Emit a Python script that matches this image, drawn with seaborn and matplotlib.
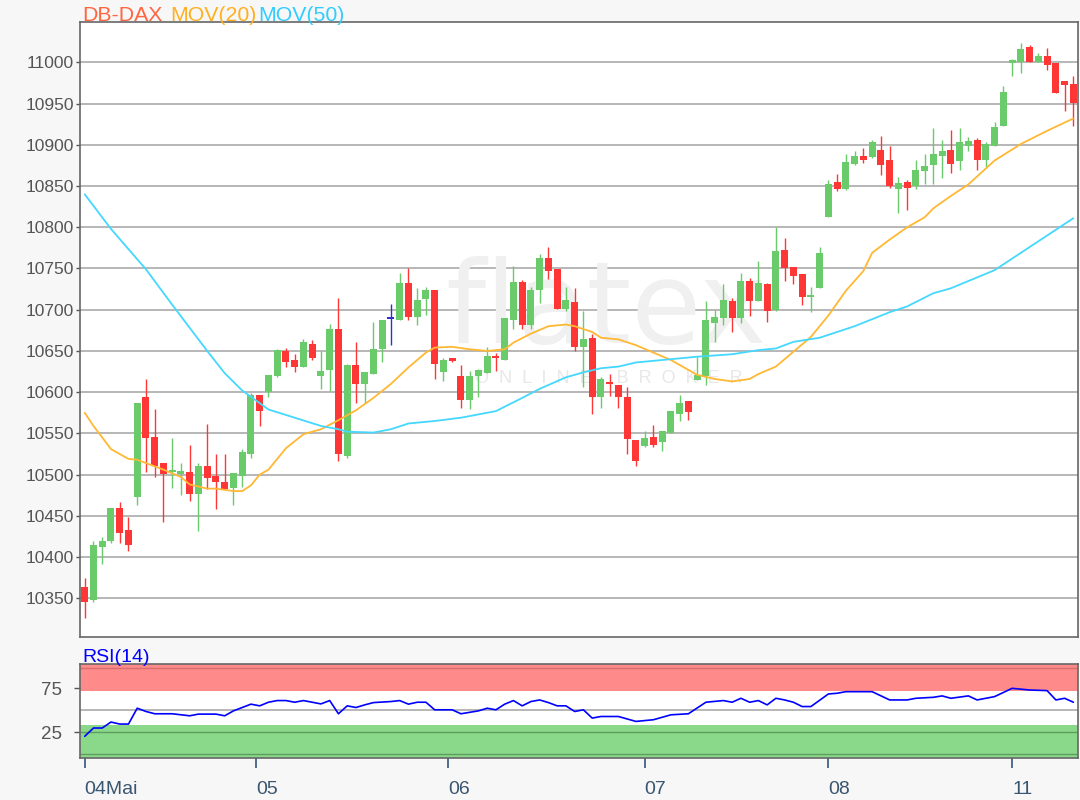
import matplotlib
matplotlib.use("Agg")
import matplotlib.pyplot as plt
import seaborn as sns
import numpy as np
import pandas as pd

# hourly candles, 04 Mai .. 11 Mai
opens = [10364, 10348, 10412, 10419, 10460, 10433, 10473, 10594, 10546, 10514,
         10503, 10501, 10503, 10477, 10510, 10498, 10491, 10484, 10498, 10525,
         10596, 10600, 10620, 10650, 10639, 10630, 10658, 10620, 10627, 10677,
         10523, 10633, 10610, 10622, 10652, 10689, 10688, 10732, 10691, 10713,
         10724, 10625, 10642, 10619, 10590, 10619, 10623, 10644, 10639, 10687,
         10734, 10681, 10724, 10763, 10749, 10701, 10709, 10655, 10666, 10594,
         10612, 10609, 10594, 10542, 10535, 10546, 10539, 10551, 10574, 10589,
         10615, 10620, 10684, 10690, 10710, 10690, 10735, 10710, 10731, 10700,
         10773, 10752, 10743, 10716, 10726, 10812, 10855, 10846, 10877, 10887,
         10885, 10894, 10882, 10846, 10855, 10850, 10868, 10875, 10887, 10894,
         10880, 10899, 10906, 10881, 10899, 10923, 10999, 11000, 11019, 11001,
         11008, 10999, 10978, 10974]
highs = [10374, 10419, 10424, 10460, 10467, 10448, 10587, 10616, 10580, 10514,
         10544, 10514, 10536, 10514, 10561, 10525, 10525, 10502, 10531, 10599,
         10597, 10621, 10652, 10654, 10646, 10665, 10663, 10650, 10683, 10714,
         10634, 10661, 10624, 10685, 10688, 10707, 10744, 10751, 10726, 10727,
         10724, 10642, 10642, 10633, 10626, 10628, 10655, 10648, 10690, 10753,
         10736, 10728, 10768, 10776, 10749, 10728, 10726, 10699, 10671, 10618,
         10622, 10609, 10606, 10542, 10553, 10560, 10553, 10577, 10597, 10589,
         10643, 10710, 10700, 10731, 10714, 10745, 10739, 10759, 10733, 10800,
         10787, 10752, 10743, 10728, 10776, 10857, 10865, 10889, 10893, 10896,
         10906, 10911, 10898, 10861, 10857, 10881, 10889, 10921, 10906, 10918,
         10921, 10910, 10908, 10903, 10928, 10971, 11004, 11023, 11021, 11011,
         11018, 10999, 10978, 10983]
lows = [10326, 10346, 10391, 10417, 10417, 10407, 10463, 10503, 10497, 10443,
        10484, 10475, 10468, 10431, 10483, 10458, 10483, 10463, 10485, 10520,
        10559, 10594, 10618, 10630, 10625, 10630, 10639, 10604, 10602, 10517,
        10520, 10587, 10587, 10622, 10636, 10657, 10687, 10688, 10681, 10693,
        10616, 10613, 10637, 10581, 10579, 10594, 10623, 10626, 10639, 10677,
        10677, 10677, 10708, 10737, 10701, 10699, 10650, 10606, 10573, 10581,
        10595, 10581, 10525, 10510, 10533, 10533, 10529, 10550, 10565, 10566,
        10615, 10609, 10661, 10682, 10673, 10684, 10692, 10710, 10685, 10698,
        10735, 10731, 10706, 10697, 10726, 10812, 10844, 10845, 10875, 10878,
        10884, 10863, 10848, 10817, 10821, 10846, 10852, 10852, 10860, 10866,
        10869, 10892, 10869, 10873, 10899, 10923, 10983, 10987, 11000, 11000,
        10991, 10963, 10941, 10923]
closes = [10345, 10414, 10419, 10460, 10429, 10415, 10587, 10544, 10511, 10501,
          10505, 10504, 10477, 10510, 10496, 10491, 10483, 10502, 10527, 10597,
          10577, 10621, 10651, 10637, 10630, 10661, 10642, 10626, 10677, 10525,
          10633, 10610, 10624, 10652, 10688, 10689, 10732, 10691, 10712, 10724,
          10634, 10639, 10638, 10590, 10619, 10627, 10644, 10642, 10690, 10734,
          10681, 10724, 10763, 10747, 10701, 10712, 10655, 10665, 10594, 10616,
          10610, 10594, 10543, 10517, 10544, 10536, 10553, 10577, 10587, 10576,
          10621, 10687, 10691, 10712, 10690, 10735, 10710, 10733, 10698, 10771,
          10751, 10741, 10716, 10718, 10769, 10852, 10846, 10879, 10886, 10882,
          10903, 10875, 10850, 10854, 10848, 10869, 10874, 10889, 10893, 10877,
          10903, 10905, 10881, 10901, 10922, 10964, 11003, 11016, 11000, 11008,
          10997, 10963, 10972, 10951]

# moving averages (candle number -> value)
ma20_idx = [0, 1, 3, 5, 6, 8, 9, 11, 12, 14, 15, 17, 18, 19, 20, 21, 23, 25, 27, 29,
            31, 33, 35, 37, 39, 40, 42, 44, 46, 48, 49, 51, 53, 55, 56, 58, 59, 61, 63, 65,
            67, 69, 70, 72, 74, 76, 77, 79, 81, 83, 85, 87, 89, 90, 92, 94, 96, 97, 99, 101,
            104, 107, 110, 113]
ma20_val = [10575, 10559, 10531, 10519, 10518, 10510, 10506, 10497, 10488, 10483,
            10483, 10480, 10480, 10487, 10500, 10506, 10532, 10549, 10555, 10566,
            10578, 10593, 10610, 10630, 10648, 10654, 10655, 10652, 10650, 10652,
            10660, 10671, 10680, 10682, 10680, 10673, 10666, 10664, 10657, 10648,
            10639, 10627, 10621, 10616, 10613, 10616, 10622, 10631, 10649, 10667,
            10693, 10723, 10747, 10769, 10785, 10800, 10812, 10823, 10838, 10852,
            10881, 10901, 10917, 10932]
ma50_idx = [0, 3, 7, 10, 12, 14, 16, 18, 21, 24, 27, 29, 30, 33, 35, 37, 40, 43, 47, 50,
            52, 55, 57, 59, 61, 63, 67, 70, 74, 77, 79, 81, 84, 88, 92, 94, 97, 99, 104, 109,
            113]
ma50_val = [10840, 10798, 10749, 10706, 10678, 10650, 10623, 10602, 10579, 10569,
            10559, 10555, 10552, 10551, 10555, 10562, 10565, 10569, 10577, 10593,
            10604, 10618, 10624, 10629, 10631, 10636, 10640, 10643, 10646, 10651,
            10653, 10661, 10666, 10680, 10697, 10704, 10720, 10726, 10748, 10783,
            10811]

rsi_idx = [0, 1, 2, 3, 4, 5, 6, 7, 8, 10, 12, 13, 15, 16, 17, 19, 20, 21, 22, 23,
           24, 25, 26, 27, 28, 29, 30, 31, 32, 33, 35, 36, 37, 38, 39, 40, 42, 43, 45, 46,
           47, 48, 49, 50, 51, 52, 53, 54, 55, 56, 57, 58, 59, 61, 63, 65, 67, 69, 71, 73,
           74, 75, 76, 77, 78, 79, 80, 81, 82, 83, 85, 86, 87, 90, 92, 94, 95, 97, 98, 99,
           101, 102, 104, 106, 108, 110, 111, 112, 113]
rsi_val = [20.5, 29.9, 29.9, 36.7, 34.4, 34.4, 52.4, 48.7, 46.1, 46.1, 43.8, 45.7, 45.7,
           43.8, 49.4, 57.0, 55.1, 59.2, 61.1, 61.1, 59.2, 61.1, 59.2, 57.3, 61.1, 46.1,
           55.1, 53.2, 56.2, 58.8, 60.0, 61.1, 57.0, 59.2, 59.2, 50.6, 50.6, 46.1, 49.4,
           52.4, 50.6, 57.0, 61.1, 55.1, 60.0, 61.8, 58.8, 55.1, 55.1, 48.7, 50.6, 41.2,
           43.0, 43.0, 37.4, 39.3, 44.9, 46.1, 59.2, 61.1, 59.2, 63.7, 59.2, 61.1, 56.2,
           63.7, 61.8, 59.2, 54.3, 54.3, 68.6, 69.4, 71.2, 71.2, 61.8, 61.8, 63.7, 64.8,
           66.4, 63.7, 66.4, 61.8, 65.6, 75.0, 73.1, 72.4, 61.8, 63.7, 59.2]

day_labels = ['04Mai', '05', '06', '07', '08', '11']
day_ticks = [0, 19.6, 41.5, 64, 85, 106]

GREEN = '#6acb6a'
RED = '#ff3636'
BLUE = '#3030d0'

sns.set_style('white')
plt.rcParams['font.family'] = ['Liberation Sans', 'DejaVu Sans']

df = pd.DataFrame({'open': opens, 'high': highs, 'low': lows, 'close': closes})
df['idx'] = np.arange(len(df))
df['colour'] = np.where(df.close > df.open, GREEN, np.where(df.close < df.open, RED, BLUE))
df['body_low'] = df[['open', 'close']].min(axis=1)
df['body_h'] = (df.close - df.open).abs().clip(lower=1.6)

fig = plt.figure(figsize=(10.8, 8), dpi=100, facecolor='#f7f7f7')
ax = fig.add_axes([80 / 1080, 163 / 800, 998 / 1080, 615 / 800])
ax_rsi = fig.add_axes([80 / 1080, 41.7 / 800, 998 / 1080, 94 / 800])

xlim = (-0.54, 113.53)

# watermark
ax.text(0.527, 0.53, 'flatex', transform=ax.transAxes, ha='center', va='center',
        fontsize=82, color='#f0f0f0', family='DejaVu Sans', zorder=0.6)
ax.text(0.53, 0.421, 'O  N  L  I  N  E     B  R  O  K  E  R', transform=ax.transAxes,
        ha='center', va='center', fontsize=13, color='#e8e8e8', zorder=0.6)

# candles
ax.vlines(df.idx, df.low, df.high, colors=df.colour, lw=1.0, zorder=3)
ax.bar(df.idx, df.body_h, bottom=df.body_low, width=0.8, color=df.colour, lw=0, zorder=4)

sns.lineplot(x=ma20_idx, y=ma20_val, ax=ax, color='#ffb833', lw=1.3, zorder=5)
sns.lineplot(x=ma50_idx, y=ma50_val, ax=ax, color='#44d8ff', lw=1.3, zorder=5)

ax.set_xlim(*xlim)
ax.set_ylim(10303, 11049)
ax.set_yticks(np.arange(10350, 11001, 50))
ax.set_xticks([])
ax.yaxis.grid(True, color='#a3a3a3', lw=1.1)
ax.set_axisbelow(True)
ax.tick_params(axis='y', left=True, length=3, width=1, color='#555555', labelsize=12.5,
               labelcolor='#555555', pad=1.5)
for s in ax.spines.values():
    s.set_color('#666666')
    s.set_linewidth(1.2)

# RSI panel
ylo, yhi = -4.5, 102.3
ax_rsi.axhspan(71.8, yhi, color='#ff8a8a', lw=0, zorder=0)
ax_rsi.axhspan(ylo, 33.3, color='#8ad88a', lw=0, zorder=0)
ax_rsi.axhline(98, color='#d86e6e', lw=1.0, zorder=1)
ax_rsi.axhline(50, color='#aaaaaa', lw=1.2, zorder=1)
ax_rsi.axhline(25, color='#5e9e5e', lw=1.0, zorder=1)
ax_rsi.axhline(0, color='#5e9e5e', lw=1.0, zorder=1)
sns.lineplot(x=rsi_idx, y=rsi_val, ax=ax_rsi, color='#0000ff', lw=1.2, zorder=3)
ax_rsi.set_xlim(*xlim)
ax_rsi.set_ylim(ylo, yhi)
ax_rsi.set_yticks([75, 25])
ax_rsi.set_xticks(day_ticks)
ax_rsi.set_xticklabels(day_labels, ha='left')
ax_rsi.tick_params(axis='y', left=True, length=4, width=1, color='#555555', labelsize=13.5,
                   labelcolor='#555555', pad=9)
ax_rsi.tick_params(axis='x', bottom=True, length=7, width=1.2, color='#335577', labelsize=14,
                   labelcolor='#3a5570', pad=9)
for s in ax_rsi.spines.values():
    s.set_color('#666666')
    s.set_linewidth(1.2)

# headers
fig.text(82.7 / 1080, 1 - 20.7 / 800, 'DB-DAX', color='#ff6640', fontsize=15.3, va='baseline')
fig.text(170 / 1080, 1 - 20.7 / 800, 'MOV(20)', color='#ffb020', fontsize=15.3, va='baseline')
fig.text(258.3 / 1080, 1 - 20.7 / 800, 'MOV(50)', color='#33ccff', fontsize=15.3, va='baseline')
fig.text(82.7 / 1080, (800 - 661.7) / 800, 'RSI(14)', color='#0000ff', fontsize=14, va='baseline')

fig.savefig('out.png', dpi=100, facecolor=fig.get_facecolor())
